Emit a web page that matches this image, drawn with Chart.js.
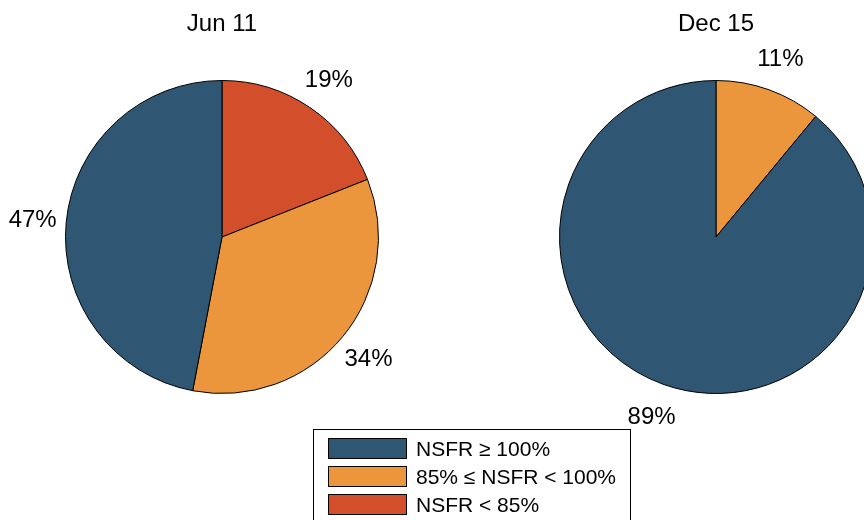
<!DOCTYPE html>
<html>
<head>
<meta charset="utf-8">
<script src="https://cdn.jsdelivr.net/npm/chart.js@4.4.0/dist/chart.umd.min.js"></script>
<style>
  html, body { margin: 0; padding: 0; width: 864px; height: 520px; overflow: hidden; background: #fff; }
  body { position: relative; font-family: "Liberation Sans", Arial, sans-serif; }
  .pie { position: absolute; top: 0; width: 444px; height: 474px; }
  #legend {
    position: absolute; left: 313px; top: 429px; width: 318px; height: 120px;
    border: 1px solid #000; box-sizing: border-box;
  }
  .item { position: absolute; left: 14px; height: 21px; display: flex; align-items: center; }
  .swatch { width: 79px; height: 21px; border: 1px solid #000; box-sizing: border-box; margin-right: 9px; }
  .item span { font-size: 21px; color: #000; white-space: nowrap; }
</style>
</head>
<body>
<div class="pie" style="left:0px"><canvas id="pieJun"></canvas></div>
<div class="pie" style="left:494px"><canvas id="pieDec"></canvas></div>
<div id="legend"></div>

<script>
// NSFR buckets, legend order
const categories = ['NSFR \u2265 100%', '85% \u2264 NSFR < 100%', 'NSFR < 85%'];
const colors = ['#2f5673', '#eb963c', '#d34f2b'];
const jun11 = [47, 34, 19];
const dec15 = [89, 11, 0];
const titles = ['Jun 11', 'Dec 15'];

// percent labels outside each slice + title above the pie
const outsideLabels = {
  id: 'outsideLabels',
  afterDatasetsDraw(chart) {
    const ctx = chart.ctx;
    const meta = chart.getDatasetMeta(0);
    const values = chart.data.datasets[0].data;
    ctx.save();
    ctx.fillStyle = '#000';
    ctx.textAlign = 'center';
    ctx.textBaseline = 'middle';
    ctx.font = '24px "Liberation Sans", Arial, sans-serif';
    let cx = 0, cy = 0, r = 0;
    meta.data.forEach((arc, i) => {
      const p = arc.getProps(['x', 'y', 'startAngle', 'endAngle', 'outerRadius'], true);
      cx = p.x; cy = p.y; r = p.outerRadius;
      if (!values[i]) return;
      const mid = (p.startAngle + p.endAngle) / 2;
      const d = p.outerRadius * 1.215;
      ctx.fillText(values[i] + '%', p.x + Math.cos(mid) * d, p.y + Math.sin(mid) * d + 1);
    });
    ctx.font = '24px "Liberation Sans", Arial, sans-serif';
    ctx.fillText(chart.options.plugins.outsideLabels.title, cx, cy - r - 56);
    ctx.restore();
  }
};

function drawPie(id, values, title) {
  new Chart(document.getElementById(id), {
    type: 'pie',
    data: {
      labels: categories.slice().reverse(),
      datasets: [{
        data: values.slice().reverse(),
        backgroundColor: colors.slice().reverse(),
        borderColor: '#000',
        borderWidth: 1
      }]
    },
    options: {
      responsive: true,
      maintainAspectRatio: false,
      animation: false,
      layout: { padding: { left: 65, right: 65, top: 80, bottom: 80 } },
      plugins: {
        legend: { display: false },
        tooltip: { enabled: false },
        outsideLabels: { title: title }
      }
    },
    plugins: [outsideLabels]
  });
}

drawPie('pieJun', jun11, titles[0]);
drawPie('pieDec', dec15, titles[1]);

// legend box
const legend = document.getElementById('legend');
categories.forEach((name, i) => {
  const item = document.createElement('div');
  item.className = 'item';
  item.style.top = (8 + i * 28) + 'px';
  item.innerHTML = `<div class="swatch" style="background:${colors[i]}"></div><span>${name}</span>`;
  legend.appendChild(item);
});
</script>
</body>
</html>
